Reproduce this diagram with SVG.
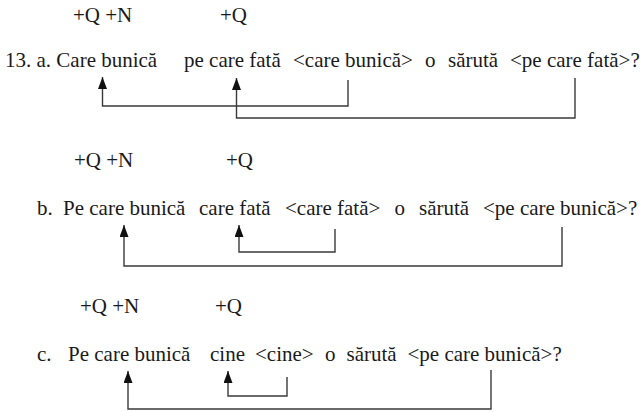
<svg xmlns="http://www.w3.org/2000/svg" width="644" height="412" viewBox="0 0 644 412">
  <style>
    text { font-family: 'Liberation Serif', 'Times New Roman', serif; font-size: 21px; fill: #1a1a1a; }
    .conn { fill: none; stroke: #3a3a3a; stroke-width: 1.4; marker-start: url(#arrow); }
  </style>
  <defs>
    <marker id="arrow" viewBox="0 0 12 9" markerWidth="12" markerHeight="9" refX="12" refY="4.5" orient="auto-start-reverse" markerUnits="userSpaceOnUse">
      <path d="M0,0 L12,4.5 L0,9 Z" fill="#111"/>
    </marker>
  </defs>
  <rect width="644" height="412" fill="#ffffff"/>

  <g id="sentence-a" font-family="Liberation Serif, serif">
    <text x="73" y="22">+Q +N</text>
    <text x="220" y="22">+Q</text>
    <text x="5" y="67">13. a. Care bunică</text>
    <text x="184" y="67">pe care fată</text>
    <text x="293" y="67">&lt;care bunică&gt;</text>
    <text x="425" y="67">o</text>
    <text x="448" y="67">sărută</text>
    <text x="510" y="67">&lt;pe care fată&gt;?</text>
  </g>

  <g id="sentence-b" font-family="Liberation Serif, serif">
    <text x="74" y="167">+Q +N</text>
    <text x="226" y="167">+Q</text>
    <text x="37" y="215">b.</text>
    <text x="63" y="215">Pe care bunică</text>
    <text x="199" y="215">care fată</text>
    <text x="285" y="215">&lt;care fată&gt;</text>
    <text x="394.5" y="215">o</text>
    <text x="419" y="215">sărută</text>
    <text x="483" y="215">&lt;pe care bunică&gt;?</text>
  </g>

  <g id="sentence-c" font-family="Liberation Serif, serif">
    <text x="80" y="313">+Q +N</text>
    <text x="215" y="313">+Q</text>
    <text x="37" y="361">c.</text>
    <text x="68" y="361">Pe care bunică</text>
    <text x="210" y="361">cine</text>
    <text x="255" y="361">&lt;cine&gt;</text>
    <text x="325" y="361">o</text>
    <text x="346.5" y="361">sărută</text>
    <text x="407.5" y="361">&lt;pe care bunică&gt;?</text>
  </g>

  <g id="connectors">
    <path class="conn" d="M102.5,77 V106 H348 V80"/>
    <path class="conn" d="M236.5,78 V118 H575 V78"/>
    <path class="conn" d="M124,225 V266 H562 V227"/>
    <path class="conn" d="M239,225 V252 H335 V229"/>
    <path class="conn" d="M128,371 V409 H491 V370"/>
    <path class="conn" d="M228,371 V396 H287 V377"/>
  </g>
</svg>
